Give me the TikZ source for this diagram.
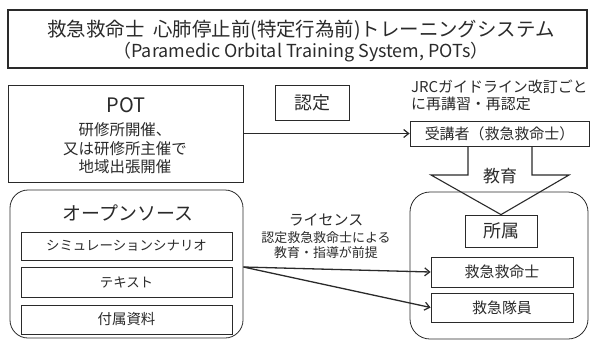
\documentclass[tikz,border=0pt]{standalone}
\usepackage{fontspec}
\setmainfont{Noto Sans CJK JP}
\usetikzlibrary{arrows.meta}
\newcommand\setfs[1]{\fontsize{#1}{#1}\selectfont}
\definecolor{ink}{HTML}{2A2A2A}
\tikzset{
  box/.style={draw=ink, line width=0.8bp, inner sep=0pt},
  txt/.style={inner sep=0pt, text=ink},
  arr/.style={draw=ink, line width=1.3bp, -{Straight Barb[length=5bp,width=8bp,line width=1.2bp]}},
}
\begin{document}
\begin{tikzpicture}[x=1bp,y=-1bp]
\useasboundingbox (0,0) rectangle (593,341);
% title
\node[box, line width=1.5bp, minimum width=579bp, minimum height=58bp] (title) at (297.5,39) {};
\node[txt, font=\setfs{19.5}] (t1) at (301,30) {救急救命士\hspace{0.45em}心肺停止前(特定行為前)トレーニングシステム};
\node[txt, font=\setfs{18}] (t2) at (301,52) {（Paramedic Orbital Training System, POTs）};
% POT box
\node[box, minimum width=235bp, minimum height=97bp] (pot) at (125.5,133.5) {};
\node[txt, font=\setfs{20}] (potl) at (126,105) {POT};
\node[txt, font=\setfs{15.5}] (p1) at (125,130) {研修所開催、};
\node[txt, font=\setfs{15.5}] (p2) at (125,148.5) {又は研修所主催で};
\node[txt, font=\setfs{15.5}] (p3) at (125,167) {地域出張開催};
% nintei
\node[box, minimum width=74bp, minimum height=35bp, font=\setfs{18}, text=ink] (nin) at (312,102.5) {認定};
% JRC
\node[txt, font=\setfs{15}, anchor=west] (j1) at (411,87) {JRCガイドライン改訂ごと};
\node[txt, font=\setfs{15}, anchor=west] (j2) at (411,103.5) {に再講習・再認定};
% receiver
\node[box, minimum width=179bp, minimum height=25bp, font=\setfs{15}, text=ink] (rec) at (499.5,133.5) {受講者（救急救命士）};
\draw[arr] (pot.east) -- (rec.west);
% right container
\node[box, rounded corners=20bp, minimum width=178bp, minimum height=147bp] (aff) at (499,265.5) {};
\node[box, minimum width=72bp, minimum height=32bp, font=\setfs{18}, text=ink] (shozoku) at (501,231) {所属};
\node[box, minimum width=142bp, minimum height=30bp, font=\setfs{15}, text=ink] (para) at (502,272) {救急救命士};
\node[box, minimum width=142bp, minimum height=29bp, font=\setfs{15}, text=ink] (emt) at (502,307.5) {救急隊員};
% block arrow
\draw[draw=ink, line width=1.1bp, line join=miter]
  (468,146) -- (468,175) -- (431,175) -- (shozoku.north) -- (569,175) -- (532,175) -- (532,146);
\node[txt, font=\setfs{17}] (kyoiku) at (500,176) {教育};
% left container
\node[box, rounded corners=18bp, minimum width=233bp, minimum height=148bp] (os) at (126.5,264) {};
\node[txt, font=\setfs{19}] (osl) at (128,213) {オープンソース};
\node[box, minimum width=211bp, minimum height=28bp, font=\setfs{13.5}, text=ink] (sim) at (126.5,246) {シミュレーションシナリオ};
\node[box, minimum width=211bp, minimum height=30bp, font=\setfs{13.5}, text=ink] (text) at (126.5,282) {テキスト};
\node[box, minimum width=211bp, minimum height=29bp, font=\setfs{14.5}, text=ink] (fuzoku) at (126.5,319.5) {付属資料};
% license
\node[txt, font=\setfs{15}] (lic) at (326,220) {ライセンス};
\node[txt, font=\setfs{13}] (lic2) at (326,238) {認定救急救命士による};
\node[txt, font=\setfs{13}] (lic3) at (326,252.5) {教育・指導が前提};
\coordinate (src) at ([yshift=-3bp]os.east);
\draw[arr] (src) -- (para.west);
\draw[arr] (src) -- (emt.west);
\end{tikzpicture}
\end{document}
